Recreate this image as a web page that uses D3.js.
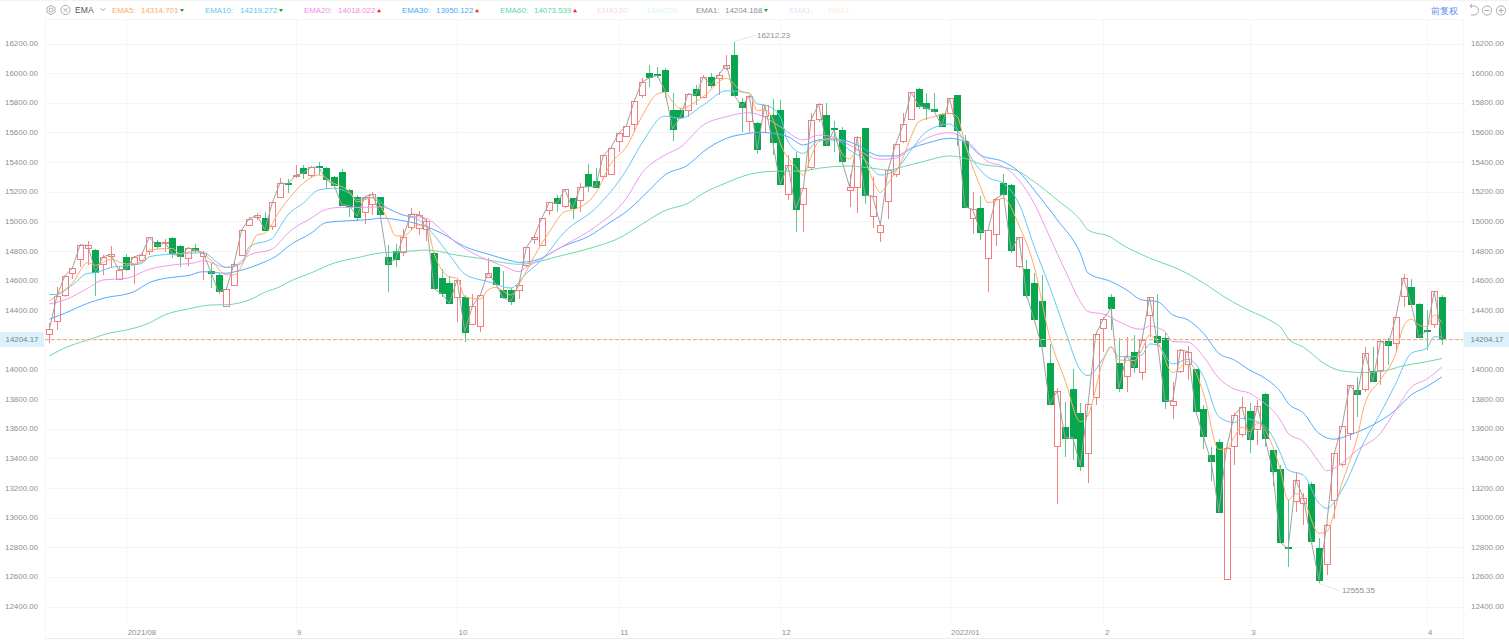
<!DOCTYPE html>
<html>
<head>
<meta charset="utf-8">
<style>
html,body{margin:0;padding:0;background:#fff;overflow:hidden}
svg{display:block}
text{font-family:"Liberation Sans",Arial,sans-serif}
</style>
<script src="https://cdn.jsdelivr.net/npm/d3@7/dist/d3.min.js"></script>
</head>
<body>
<svg id="chart" width="1509" height="640"></svg>
<script>
// Daily index candles, 2021/07 – 2022/04, oldest first
const opens = [14235,14329,14505,14649,14748,14818,14806,14712,14766,14613,14759,14717,14744,14795,14862,14849,14885,14831,14752,14822,14768,14667,14635,14424,14568,14773,14980,15027,15021,14969,15164,15260,15301,15358,15310,15375,15358,15297,15333,15211,15166,15067,15115,15162,14757,14801,14797,14960,14960,14953,14784,14615,14581,14491,14491,14311,14288,14626,14692,14533,14536,14536,14703,14885,14838,15074,15157,15103,15155,15142,15317,15274,15301,15319,15540,15580,15655,15851,15999,15994,16023,15751,15751,15751,15891,15839,15974,15969,16037,16120,15807,15675,15663,15711,15717,15749,15182,15427,15115,15366,15689,15719,15628,15619,15216,15229,15628,15034,14930,15137,15317,15537,15692,15893,15796,15756,15722,15729,15852,15544,15022,15092,14750,14917,15258,15245,14700,14680,14581,14460,14041,13482,13610,13870,13708,13436,13812,14278,14491,14041,13958,14116,13981,14366,14226,14211,13765,13992,14039,14001,13731,13421,13509,12586,13479,13569,13717,13596,13835,13455,13325,12800,13112,13099,13227,12795,12688,13117,13357,13569,13861,13863,13990,13994,14192,14177,14500,14556,14442,14266,14307,14487];
const highs = [14314,14557,14638,14692,14847,14867,14811,14775,14833,14698,14777,14766,14795,14896,14874,14881,14892,14840,14824,14846,14801,14717,14653,14550,14717,14948,15030,15058,15060,15132,15290,15286,15380,15380,15372,15402,15364,15306,15351,15216,15177,15171,15200,15166,14840,14844,14946,15088,15072,15014,14795,14676,14631,14609,14500,14509,14503,14752,14694,14664,14547,14570,14829,14905,15025,15132,15177,15220,15159,15256,15385,15358,15449,15503,15598,15650,15814,15965,16054,16043,16033,15864,15762,15868,15920,15985,15999,16009,16122,16212.23,15830,15850,15668,15785,15827,15819,15447,15470,15227,15731,15799,15797,15675,15635,15317,15576,15632,15301,14986,15346,15522,15729,15873,15898,15868,15868,15729,15834,15854,15582,15200,15171,14941,15157,15319,15250,14896,14739,14649,14638,14172,13873,13778,14001,13772,13772,14244,14355,14509,14212,14222,14233,14222,14491,14509,14244,13918,14138,14161,14005,13760,13479,13531,13479,13704,13812,13772,13794,13840,13459,13355,13119,13310,13164,13241,12859,12954,13438,13618,13897,13948,14150,14150,14199,14210,14357,14644,14609,14451,14401,14531,14503];
const lows = [14179,14266,14491,14613,14694,14705,14498,14638,14683,14613,14664,14577,14717,14773,14811,14795,14752,14689,14698,14788,14604,14548,14509,14420,14563,14773,14975,15009,14936,14941,15155,15193,15290,15283,15290,15313,15216,15234,15108,15031,15004,14982,15042,15029,14526,14694,14766,14941,14908,14867,14541,14491,14442,14318,14184,14300,14255,14622,14575,14475,14435,14473,14694,14847,14833,15042,15065,15087,15015,15065,15196,15230,15285,15315,15470,15571,15605,15831,15904,15965,15834,15542,15688,15702,15785,15832,15898,15852,16021,15850,15605,15594,15454,15594,15447,15245,15144,14930,14928,15346,15670,15513,15468,15402,15095,15054,15117,14957,14857,15015,15301,15531,15688,15756,15684,15735,15636,15724,15510,15095,14912,14873,14525,14835,15171,14784,14687,14480,14333,14150,13760,13090,13407,13389,13317,13232,13760,14118,14263,13850,13846,13974,13929,14222,14165,13731,13664,13974,13929,13713,13461,13247,13029,12584,13357,13546,13438,13491,13477,13215,12827,12666,13040,12948,12841,12555.35,12613,12988,13344,13524,13681,13850,13916,13895,14030,14127,14420,14435,14215,14131,14277,14165];
const closes = [14271,14496,14631,14683,14840,14838,14660,14761,14777,14671,14680,14761,14775,14892,14833,14858,14781,14761,14820,14808,14788,14656,14525,14541,14712,14941,15018,15040,14942,15128,15260,15251,15310,15326,15364,15366,15283,15245,15112,15105,15034,15166,15182,15045,14712,14745,14896,15050,15045,15004,14545,14511,14447,14604,14255,14430,14500,14651,14579,14484,14464,14568,14824,14896,15021,15128,15121,15216,15085,15229,15234,15234,15445,15497,15594,15645,15810,15938,15969,15985,15884,15623,15702,15859,15853,15972,15922,15989,16057,15852,15773,15846,15487,15783,15537,15250,15378,15085,15223,15684,15790,15517,15619,15409,15233,15567,15177,15169,14977,15344,15520,15655,15871,15780,15764,15742,15643,15830,15616,15099,15080,14933,14939,15153,15184,14806,14894,14504,14335,14154,13764,13855,13537,13542,13351,13769,14237,14342,14415,13875,14093,14015,14199,14487,14184,13789,13789,14133,14120,13717,13546,13378,13036,13472,13690,13749,13528,13751,13538,13313,12831,12790,13256,13131,12845,12579,12949,13434,13616,13893,13832,14109,13920,14190,14167,14352,14619,14440,14219,14260,14527,14204.17];

// Moving-average curves, read at the candle positions listed in the *At arrays
const ema5At = [0,1,3,5,6,8,10,12,13,16,17,19,21,23,24,26,27,28,30,31,33,35,37,39,40,42,44,45,46,48,49,50,52,53,54,56,57,58,60,61,63,65,67,68,71,73,75,77,79,80,81,82,85,88,90,91,92,93,94,95,97,98,99,100,102,103,104,105,106,107,108,109,111,112,113,115,117,118,119,121,122,124,126,128,130,132,134,135,137,138,139,141,142,143,144,146,148,150,152,153,154,155,156,157,158,159,160,161,162,163,165,166,168,170,171,173,175,176,177,178,179,180,181];
const ema5 = [14462,14503,14582,14721,14703,14743,14712,14727,14806,14817,14779,14801,14739,14638,14638,14806,14908,14919,15076,15144,15256,15312,15256,15200,15132,15159,15009,14902,14901,14975,14975,14784,14626,14615,14491,14475,14536,14554,14503,14570,14761,14930,15065,15076,15189,15391,15503,15706,15859,15871,15807,15762,15841,15965,15875,15864,15747,15751,15695,15526,15368,15312,15436,15537,15560,15459,15421,15481,15414,15279,15196,15257,15436,15571,15672,15706,15729,15704,15526,15234,15126,15155,14975,14694,14221,13929,13647,13693,14064,14154,14064,14060,14131,14233,14188,13979,14053,13839,13461,13461,13546,13610,13581,13637,13592,13479,13321,13119,13164,13119,12894,12905,13232,13546,13772,13929,14109,14289,14339,14300,14289,14368,14314.701];

const ema10At = [0,1,3,5,6,8,10,12,13,16,18,20,22,23,25,26,29,30,31,33,35,37,39,40,42,44,46,48,49,52,54,57,60,62,64,67,71,75,77,80,82,85,88,91,92,93,95,96,98,100,102,104,106,108,110,112,114,117,118,120,122,124,126,128,130,132,134,135,137,138,139,141,142,143,144,146,148,150,152,154,155,157,159,160,161,163,165,166,168,171,173,175,177,179,180,181];
const ema10 = [14505,14507,14570,14649,14653,14689,14700,14716,14761,14779,14784,14788,14716,14689,14716,14829,14885,14964,15042,15122,15211,15223,15189,15148,15162,15088,15042,15009,14964,14773,14644,14593,14550,14649,14739,14930,15088,15346,15526,15710,15695,15785,15881,15864,15792,15785,15706,15537,15459,15549,15560,15481,15414,15312,15346,15481,15605,15656,15616,15414,15297,15256,15121,14829,14559,14266,13996,13958,14076,14150,14087,14087,14098,14172,14165,14037,14069,13951,13681,13641,13670,13647,13546,13434,13321,13287,13097,13063,13186,13524,13704,13906,14109,14143,14221,14219.272];

const ema20At = [0,2,5,7,10,13,16,19,20,23,24,26,29,30,31,34,36,38,41,43,46,49,51,53,56,59,61,62,64,67,71,75,77,80,82,85,88,91,93,95,98,100,102,104,108,110,112,114,117,119,122,124,126,128,130,132,134,135,137,139,141,142,143,145,146,148,150,152,154,156,157,160,161,163,165,166,168,170,173,175,177,179,181];
const ema20 = [14442,14469,14548,14604,14615,14676,14705,14721,14734,14689,14698,14773,14813,14862,14919,15020,15081,15094,15094,15098,15042,15020,14941,14851,14761,14698,14660,14689,14750,14840,14964,15155,15324,15447,15499,15650,15706,15733,15702,15638,15549,15582,15567,15515,15418,15425,15493,15560,15598,15555,15402,15369,15279,15121,14896,14671,14458,14390,14373,14323,14278,14271,14293,14255,14188,14184,14087,13941,13868,13839,13807,13659,13569,13512,13377,13316,13367,13457,13569,13727,13880,13934,14018.022];

const ema30At = [0,2,5,7,11,13,16,18,20,23,24,27,30,31,34,36,39,42,43,46,49,51,54,57,60,61,63,67,70,73,75,78,80,83,85,88,91,92,94,96,98,100,103,105,108,110,112,114,117,119,121,124,126,128,131,134,135,138,140,142,144,146,148,150,152,154,156,158,160,161,163,165,167,169,172,175,177,179,181];
const ema30 = [14339,14379,14447,14480,14525,14586,14622,14633,14660,14649,14658,14705,14784,14829,14919,14991,15004,15014,15021,15004,14964,14919,14829,14779,14734,14723,14734,14836,14896,14997,15065,15211,15312,15380,15470,15560,15594,15601,15594,15571,15515,15549,15549,15515,15441,15441,15493,15526,15560,15537,15447,15402,15335,15211,15009,14784,14651,14593,14537,14469,14458,14368,14334,14244,14109,14064,13996,13940,13850,13772,13705,13569,13529,13558,13625,13727,13828,13884,13950.122];

const ema60At = [0,2,5,8,10,13,15,18,21,23,26,28,30,31,34,37,40,43,46,49,50,53,56,59,61,63,66,71,74,77,80,83,85,88,91,94,98,100,104,107,109,111,114,117,119,121,124,126,128,131,134,135,138,139,143,147,150,153,156,159,160,161,163,166,168,171,173,176,179,181];
const ema60 = [14091,14145,14199,14248,14266,14314,14368,14408,14435,14437,14469,14521,14559,14588,14651,14718,14754,14786,14795,14806,14802,14771,14750,14721,14710,14721,14761,14829,14885,14980,15072,15122,15189,15260,15317,15337,15340,15358,15373,15358,15346,15369,15409,15441,15425,15387,15364,15335,15267,15144,15009,14941,14892,14856,14752,14671,14584,14480,14397,14322,14287,14210,14150,14030,13990,13979,13985,14025,14052,14073.539];

// Axis content
const priceTicks = d3.range(12400, 16201, 200);
const monthLabels = ["2021/08","9","10","11","12","2022/01","2","3","4"];
const monthStarts = [10,32,53,74,95,117,137,156,179];
const lastPrice = 14204.17;
const highLabel = "16212.23";
const lowLabel = "12555.35";

// Legend rows: name, value, trend (1 up, -1 down, 0 none), colour
const legendNames = ["EMA5:","EMA10:","EMA20:","EMA30:","EMA60:","EMA120:","EMA200:","EMA1:","EMA1:","EMA1:"];
const legendValues = ["14314.701","14219.272","14018.022","13950.122","14073.539","","","14204.168","",""];
const legendTrend = [-1,-1,1,1,1,0,0,-1,0,0];
const legendColors = ["#fdaa62","#5cc5f2","#ef8ee6","#4ea6ff","#5fd6a3","#fdd9d9","#d9f8fa","#8f9196","#e9dffc","#fdeedd"];
const legendX = [112,205,304,402,500,597,647,696,789,828];
const legendValueX = [141,240,338,436,534,0,0,725,0,0];

const width = 1509, height = 640;
const plot = {left:45, right:1463, top:19, bottom:639, gridBottom:625};
const upColor = "#f57d7d", downColor = "#08a64e", upWick = "#f68383", downWick = "#5cc98c";
const labelColor = "#8c8f96", gridColor = "#f3f5f9";

const svg = d3.select("#chart");
const x = d3.scaleLinear().domain([0, 181]).range([49.3, 1442]);
const y = d3.scaleLinear().domain([12400, 16200]).range([606.5, 43.5]);
const crisp = v => Math.round(v) + 0.5;

// frame and grid
const grid = svg.append("g").attr("shape-rendering","crispEdges").attr("stroke",gridColor).attr("fill","none");
grid.append("line").attr("x1",0).attr("x2",width).attr("y1",0.5).attr("y2",0.5).attr("stroke","#f2f2f2");
grid.append("line").attr("x1",plot.left).attr("x2",plot.right).attr("y1",plot.top+.5).attr("y2",plot.top+.5);
grid.append("line").attr("x1",plot.left+.5).attr("x2",plot.left+.5).attr("y1",plot.top).attr("y2",plot.bottom);
grid.append("line").attr("x1",plot.right+.5).attr("x2",plot.right+.5).attr("y1",plot.top).attr("y2",plot.bottom);
grid.append("line").attr("x1",plot.left).attr("x2",plot.right).attr("y1",plot.bottom-.5).attr("y2",plot.bottom-.5).attr("stroke","#e9ebef");
grid.selectAll("line.h").data(priceTicks).join("line").attr("class","h")
  .attr("x1",plot.left).attr("x2",plot.right)
  .attr("y1",d=>crisp(y(d))).attr("y2",d=>crisp(y(d)));
grid.selectAll("line.v").data(monthStarts).join("line").attr("class","v")
  .attr("x1",d=>crisp(x(d))).attr("x2",d=>crisp(x(d)))
  .attr("y1",plot.top).attr("y2",plot.gridBottom);

// price axes on both sides
const axisText = (sel) => sel.attr("fill",labelColor).attr("font-size",7.9);
const leftAxis = svg.append("g").call(axisText);
leftAxis.selectAll("text").data(priceTicks).join("text")
  .attr("x",38).attr("y",d=>y(d)+2.6).attr("text-anchor","end").text(d=>d.toFixed(2));
const rightAxis = svg.append("g").call(axisText);
rightAxis.selectAll("text").data(priceTicks).join("text")
  .attr("x",1471).attr("y",d=>y(d)+2.6).text(d=>d.toFixed(2));

// month labels
svg.append("g").call(axisText).selectAll("text").data(monthLabels).join("text")
  .attr("x",(d,i)=>x(monthStarts[i])+1.5).attr("y",635).text(d=>d);

// candles
const n = opens.length;
const candles = svg.append("g").selectAll("g").data(d3.range(n)).join("g")
  .attr("shape-rendering","crispEdges");
candles.append("line")
  .attr("x1",i=>crisp(x(i))).attr("x2",i=>crisp(x(i)))
  .attr("y1",i=>y(highs[i])).attr("y2",i=>y(lows[i]))
  .attr("stroke",i=>closes[i]>=opens[i]?upWick:downWick);
candles.append("rect")
  .attr("x",i=>Math.round(x(i))-2.5).attr("width",6)
  .attr("y",i=>Math.round(y(Math.max(opens[i],closes[i])))+.5)
  .attr("height",i=>Math.max(1,Math.round(Math.abs(y(opens[i])-y(closes[i])))))
  .attr("fill",i=>closes[i]>=opens[i]?"#fff":downColor)
  .attr("stroke",i=>closes[i]>=opens[i]?upColor:downColor);

// moving averages, rounded between the read positions
const line = d3.line().x(d=>x(d[0])).y(d=>y(d[1]));
const smooth = d3.line().curve(d3.curveMonotoneX).x(d=>x(d[0])).y(d=>y(d[1]));
const curves = [[ema60At,ema60,"#6fd8a9"],[ema30At,ema30,"#55a9ff"],[ema20At,ema20,"#ef9aea"],[ema10At,ema10,"#64c8f2"],[ema5At,ema5,"#fdab66"]];
curves.forEach(([at,vals,color])=>{
  svg.append("path").attr("d",smooth(at.map((a,k)=>[a,vals[k]])))
    .attr("fill","none").attr("stroke",color).attr("stroke-width",1);
});
// EMA1 follows the close
svg.append("path").attr("d",line(closes.map((c,i)=>[i,c])))
  .attr("fill","none").attr("stroke","#a0a0a0").attr("stroke-width",1);

// last price marker
const yLast = crisp(y(lastPrice));
svg.append("line").attr("x1",plot.left).attr("x2",plot.right).attr("y1",yLast).attr("y2",yLast)
  .attr("stroke","#f4ab80").attr("stroke-dasharray","4 2").attr("shape-rendering","crispEdges");
[[0,44,22],[1464,45,1487]].forEach(([bx,bw,tx])=>{
  svg.append("rect").attr("x",bx).attr("y",yLast-7.5).attr("width",bw).attr("height",15).attr("fill","#dcf1fb");
  svg.append("text").attr("x",tx).attr("y",yLast+2.5).attr("text-anchor","middle")
    .attr("fill","#6a8a88").attr("font-size",7.9).text(lastPrice.toFixed(2));
});

// extreme annotations
const hiIndex = highs.indexOf(d3.max(highs)), loIndex = lows.indexOf(d3.min(lows));
[[hiIndex,d3.max(highs),highLabel,21,-6.5],[loIndex,d3.min(lows),lowLabel,21,7.5]].forEach(([i,v,t,dx,dy])=>{
  const px = x(i), py = y(v);
  svg.append("line").attr("x1",px).attr("y1",py).attr("x2",px+dx).attr("y2",py+dy).attr("stroke","#e6e6ea");
  svg.append("text").attr("x",px+dx+2).attr("y",py+dy+2.5).attr("fill",labelColor).attr("font-size",7.9).text(t);
});

// toolbar: icons and EMA legend
const icons = svg.append("g").attr("fill","none").attr("stroke","#9fa3ab").attr("stroke-width",0.9);
icons.append("circle").attr("cx",51).attr("cy",10).attr("r",2);
icons.append("path").attr("d",d3.line().curve(d3.curveLinearClosed)(d3.range(6).map(k=>[51+4.6*Math.cos(k*Math.PI/3+Math.PI/6),10+4.6*Math.sin(k*Math.PI/3+Math.PI/6)])));
icons.append("circle").attr("cx",65.5).attr("cy",10).attr("r",4.6);
icons.append("path").attr("d","M63.7 8.2L67.3 11.8M67.3 8.2L63.7 11.8");
icons.append("path").attr("d","M100.5 8.5L103 10.5L105.5 8.5");
icons.append("path").attr("d","M1470 6H1474A4.5 4.5 0 0 1 1474 15H1471M1470 6L1472 4M1470 6L1472 8");
icons.append("circle").attr("cx",1487).attr("cy",10.5).attr("r",4.6);
icons.append("path").attr("d","M1484.5 10.5H1489.5");
icons.append("circle").attr("cx",1501).attr("cy",10.5).attr("r",4.6);
icons.append("path").attr("d","M1498.5 10.5H1503.5M1501 8V13");

svg.append("text").attr("x",75).attr("y",13).attr("fill","#55585f").attr("font-size",8.6).text("EMA");

const legend = svg.append("g").attr("font-size",7.9);
legendNames.forEach((name,i)=>{
  legend.append("text").attr("x",legendX[i]).attr("y",13).attr("fill",legendColors[i]).text(name);
  if (!legendValues[i]) return;
  legend.append("text").attr("x",legendValueX[i]).attr("y",13).attr("fill",legendColors[i]).text(legendValues[i]);
  const tx = legendValueX[i] + 41;
  const up = legendTrend[i] > 0;
  legend.append("path")
    .attr("d", up ? `M${tx-2} 12.2H${tx+2}L${tx} 8.8Z` : `M${tx-2} 9H${tx+2}L${tx} 12Z`)
    .attr("fill", up ? "#f02a2a" : "#1f9d2a");
});

svg.append("text").attr("x",1431).attr("y",13.5).attr("fill","#5d8ff0").attr("font-size",9)
  .attr("font-family","'Noto Sans CJK SC',sans-serif").text("前复权");
</script>
</body>
</html>
